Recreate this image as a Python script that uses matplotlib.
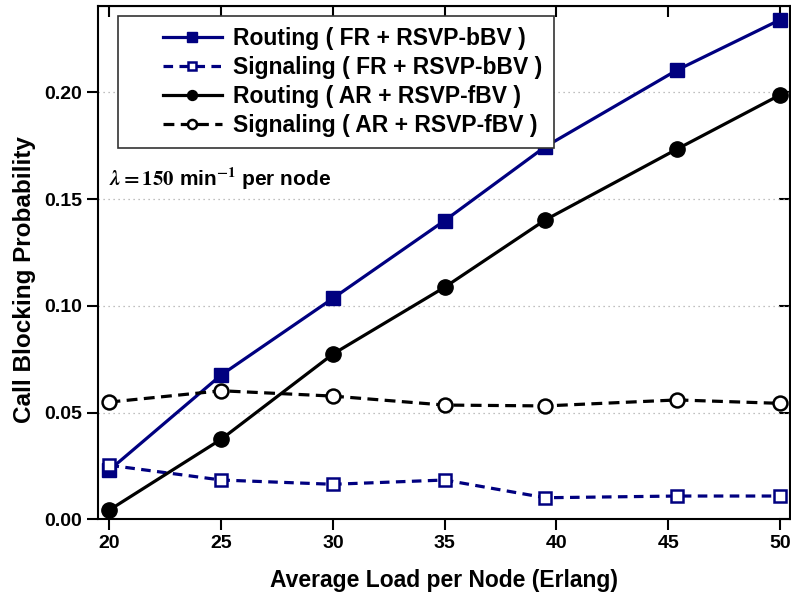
import numpy as np
import matplotlib
matplotlib.use('Agg')
import matplotlib.pyplot as plt
from matplotlib.legend_handler import HandlerLine2D
from matplotlib.lines import Line2D

plt.rcParams['font.family'] = ['Liberation Sans', 'DejaVu Sans']
plt.rcParams['font.weight'] = 'bold'
plt.rcParams['mathtext.fontset'] = 'stix'

# load (Erlang)
load = [20, 25, 30, 35, 39.5, 45.4, 50]

# call blocking probability
routing_fr = [0.0231, 0.0676, 0.1035, 0.1399, 0.1745, 0.2104, 0.2339]
signaling_fr = [0.0253, 0.0184, 0.0164, 0.0184, 0.0101, 0.0109, 0.0109]
routing_ar = [0.0044, 0.0375, 0.0774, 0.1087, 0.1402, 0.1734, 0.1987]
signaling_ar = [0.0549, 0.0602, 0.0577, 0.0535, 0.0531, 0.0559, 0.0543]

labels = ['Routing ( FR + RSVP-bBV )', 'Signaling ( FR + RSVP-bBV )',
          'Routing ( AR + RSVP-fBV )', 'Signaling ( AR + RSVP-fBV )']

xticks = [20, 25, 30, 35, 40, 45, 50]
yticks = [0.00, 0.05, 0.10, 0.15, 0.20]

navy = '#000080'
lw = 2.3
ms = 10


class ShiftedHandler(HandlerLine2D):
    # leave some blank room on the left of the legend handle
    def get_xdata(self, legend, xdescent, ydescent, width, height, fontsize):
        x0 = -xdescent + 0.366 * width
        x1 = -xdescent + width
        return np.array([x0, x1]), np.array([(x0 + x1) / 2])


fig = plt.figure(figsize=(7.91, 5.98), dpi=100)
ax = fig.add_axes([0.1243, 0.1316, 0.8744, 0.8584])

ax.plot(load, routing_fr, '-', color=navy, lw=lw, marker='s', ms=ms,
        mfc=navy, mec=navy, label=labels[0])
ax.plot(load, signaling_fr, '--', color=navy, lw=lw, marker='s', ms=ms - 1,
        mfc='white', mec=navy, mew=1.8, dashes=(3.0, 2.0), label=labels[1])
ax.plot(load, routing_ar, '-', color='black', lw=lw, marker='o', ms=ms + 1,
        mfc='black', mec='black', label=labels[2])
ax.plot(load, signaling_ar, '--', color='black', lw=lw, marker='o', ms=ms,
        mfc='white', mec='black', mew=1.8, dashes=(3.4, 2.0), label=labels[3])

ax.set_xlim(19.5, 50.45)
ax.set_ylim(0, 0.2404)
ax.set_xticks(xticks)
ax.set_yticks(yticks)
ax.set_yticklabels(['%.2f' % v for v in yticks])
ax.yaxis.grid(True, linestyle=(0, (1, 3)), color='#aaaaaa', lw=0.9)
ax.set_axisbelow(True)

ax.tick_params(axis='both', which='major', labelsize=14, width=1.5, length=8,
               direction='out')
for lab in ax.get_xticklabels() + ax.get_yticklabels():
    lab.set_fontweight('bold')

# inward ticks on top and right
sec_x = ax.secondary_xaxis('top')
sec_x.set_xticks(xticks)
sec_x.set_xticklabels([])
sec_x.tick_params(direction='in', length=8, width=1.5)
sec_y = ax.secondary_yaxis('right')
sec_y.set_yticks(yticks)
sec_y.set_yticklabels([])
sec_y.tick_params(direction='in', length=8, width=1.5)
for s in ax.spines.values():
    s.set_linewidth(1.5)

ax.set_xlabel('Average Load per Node (Erlang)', fontsize=16.5,
              fontweight='bold', labelpad=12)
ax.set_ylabel('Call Blocking Probability', fontsize=17.5, fontweight='bold')
ax.yaxis.set_label_coords(-0.090, 0.467)

leg = ax.legend(loc='upper left', bbox_to_anchor=(0.028, 0.9805),
                borderaxespad=0, fontsize=16.5, handlelength=4.03,
                markerscale=0.65, fancybox=False, framealpha=1,
                edgecolor='#333333', labelspacing=0.25, borderpad=0.5,
                handletextpad=0.5,
                handler_map={Line2D: ShiftedHandler()})
leg.get_frame().set_linewidth(1.2)
for t in leg.get_texts():
    t.set_fontweight('bold')

ax.text(0.016, 0.649, r'$\lambda = 150$ min$^{\mathbf{-1}}$ per node',
        transform=ax.transAxes, fontsize=15, fontweight='bold',
        va='baseline', ha='left')

fig.savefig('out.png', dpi=100)
